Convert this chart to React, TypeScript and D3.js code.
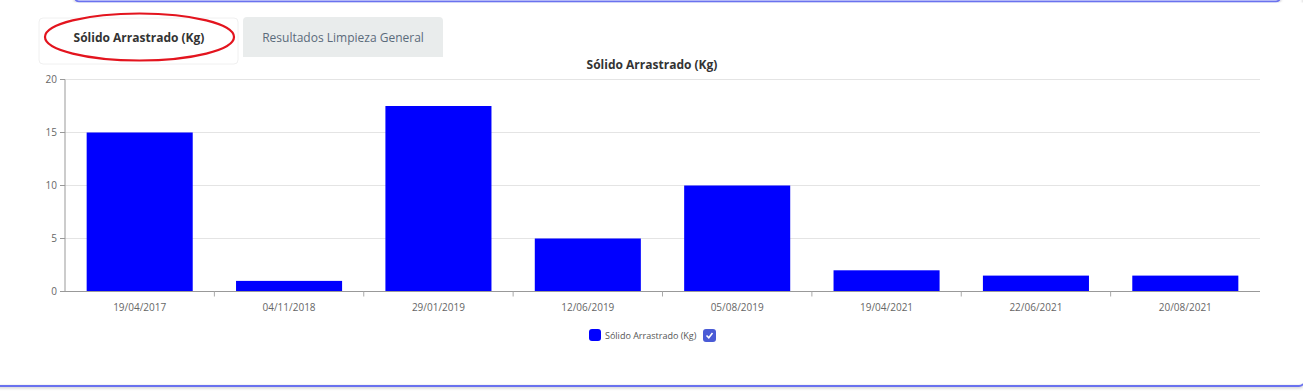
import React from "react";
import * as d3 from "d3";

const categories = [
  "19/04/2017",
  "04/11/2018",
  "29/01/2019",
  "12/06/2019",
  "05/08/2019",
  "19/04/2021",
  "22/06/2021",
  "20/08/2021",
];
const values = [15, 1, 17.5, 5, 10, 2, 1.5, 1.5];
const yTicks = [0, 5, 10, 15, 20];
const seriesName = "Sólido Arrastrado (Kg)";
const tabLabels = ["Sólido Arrastrado (Kg)", "Resultados Limpieza General"];

const W = 1303;
const H = 391;
const FONT = "'Open Sans', 'Noto Sans', sans-serif";

export default function App() {
  const left = 65;
  const right = 1260;
  const top = 79.5;
  const bottom = 291.5;

  const x = d3
    .scaleBand<string>()
    .domain(categories)
    .range([left, right])
    .paddingInner(0.29)
    .paddingOuter(0.145);
  const band = (right - left) / categories.length;
  const y = d3.scaleLinear().domain([0, 20]).range([bottom, top]);

  return (
    <div style={{ position: "fixed", left: 0, top: 0, width: W, height: H, background: "#fff" }}>
      <svg width={W} height={H} style={{ display: "block" }}>
        <defs>
          <filter id="sh" x="-5%" y="-50%" width="110%" height="200%">
            <feDropShadow dx="0" dy="1" stdDeviation="1.5" floodColor="#000" floodOpacity="0.25" />
          </filter>
        </defs>
        {/* top card bottom edge */}
        <rect x={75} y={-20} width={1205} height={21.5} rx={4} fill="#fff" stroke="#6b72ef" strokeWidth={2} filter="url(#sh)" />
        {/* lower card */}
        <rect x={-6} y={-10} width={1310} height={396} rx={5} fill="none" stroke="#6b72ef" strokeWidth={2} filter="url(#sh)" />
        <rect x={0} y={2.5} width={1303} height={381} fill="#fff" />

        {/* tabs */}
        <rect x={39} y={18} width={199} height={46} rx={4} fill="#fff" stroke="#f0f0f0" strokeWidth={1} />
        <rect x={243} y={17} width={200} height={40} rx={4} fill="#e9ecec" />
        <rect x={243} y={40} width={200} height={17} fill="#e9ecec" />
        <text x={139} y={42} textAnchor="middle" fontFamily={FONT} fontSize={12} fontWeight={700} fill="#333">
          {tabLabels[0]}
        </text>
        <text x={343} y={42} textAnchor="middle" fontFamily={FONT} fontSize={12} fill="#5b6b7b">
          {tabLabels[1]}
        </text>
        <ellipse cx={139.5} cy={37} rx={94.5} ry={23.5} fill="none" stroke="#e3141e" strokeWidth={2.2} />

        {/* title */}
        <text x={652} y={69} textAnchor="middle" fontFamily={FONT} fontSize={12} fontWeight={700} fill="#333">
          {seriesName}
        </text>

        {/* gridlines */}
        {yTicks.map((t) => (
          <line key={"g" + t} x1={left} x2={right} y1={y(t)} y2={y(t)} stroke="#e4e4e4" strokeWidth={1} />
        ))}

        {/* bars */}
        {categories.map((c, i) => (
          <rect
            key={c}
            x={x(c)!}
            y={y(values[i])}
            width={x.bandwidth()}
            height={bottom - y(values[i])}
            fill="#0000ff"
          />
        ))}

        {/* y axis */}
        <line x1={left} x2={left} y1={top} y2={bottom} stroke="#999" strokeWidth={1} />
        {yTicks.map((t) => (
          <g key={"y" + t}>
            <line x1={left - 5} x2={left} y1={y(t)} y2={y(t)} stroke="#999" />
            <text x={left - 8} y={y(t) + 3.5} textAnchor="end" fontFamily={FONT} fontSize={10} fill="#666">
              {t}
            </text>
          </g>
        ))}

        {/* x axis */}
        <line x1={left} x2={right} y1={bottom} y2={bottom} stroke="#999" strokeWidth={1} />
        {categories.map((c, i) => (
          <g key={"x" + c}>
            {i > 0 && (
              <line x1={left + band * i} x2={left + band * i} y1={bottom} y2={bottom + 5} stroke="#aaa" />
            )}
            <text
              x={x(c)! + x.bandwidth() / 2}
              y={bottom + 19}
              textAnchor="middle"
              fontFamily={FONT}
              fontSize={10}
              fill="#666"
            >
              {c}
            </text>
          </g>
        ))}

        {/* legend */}
        <rect x={589} y={329} width={12} height={12} rx={3} fill="#0000ff" />
        <text x={605} y={338.5} fontFamily={FONT} fontSize={9} fill="#555">
          {seriesName}
        </text>
        <rect x={703} y={329} width={13} height={13} rx={3} fill="#4a5bd6" />
        <path d="M706.5 335.5 L708.8 337.8 L712.5 333" fill="none" stroke="#fff" strokeWidth={1.6} />
      </svg>
    </div>
  );
}
